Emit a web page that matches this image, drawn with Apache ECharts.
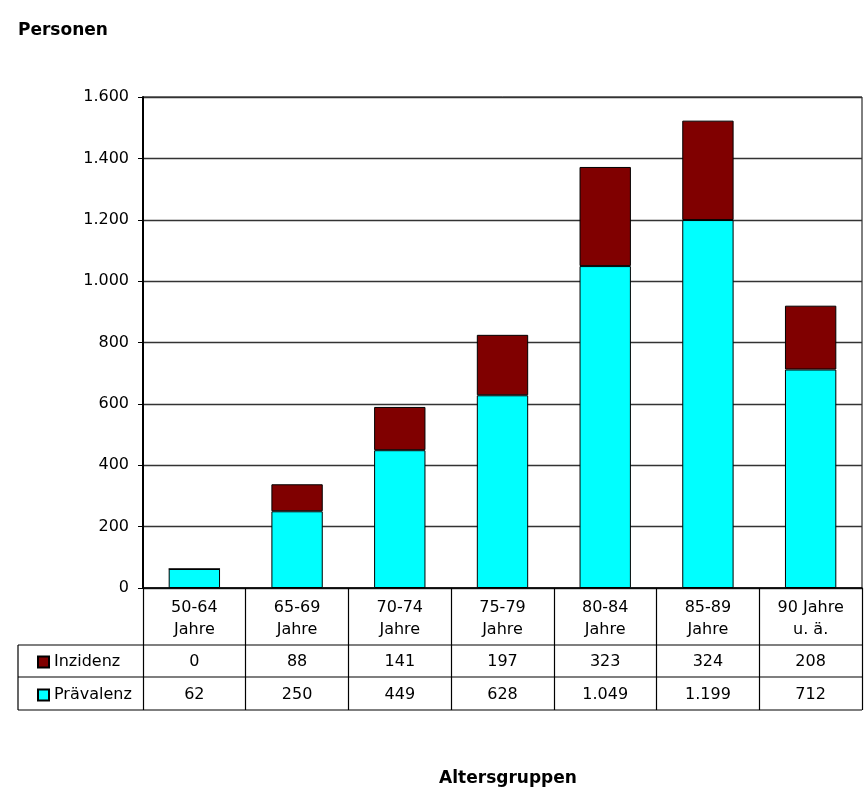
<!DOCTYPE html>
<html>
<head>
<meta charset="utf-8">
<script src="https://cdn.jsdelivr.net/npm/echarts@6/dist/echarts.min.js"></script>
<style>
    html, body { margin: 0; padding: 0; background: #fff; }
    #chart { width: 864px; height: 793px; }
</style>
</head>
<body>
<div id="chart"></div>
<script>
    // Altersgruppen und Werte (aus der Tabelle unter dem Diagramm)
    var categories = ['50-64\nJahre', '65-69\nJahre', '70-74\nJahre', '75-79\nJahre', '80-84\nJahre', '85-89\nJahre', '90 Jahre\nu. ä.'];
    var praevalenz = [62, 250, 449, 628, 1049, 1199, 712];
    var inzidenz = [0, 88, 141, 197, 323, 324, 208];
    var yTicks = { min: 0, max: 1600, interval: 200 };

    var FONT = 'DejaVu Sans';

    function fmt(v) {
        return String(v).replace(/\B(?=(\d{3})+(?!\d))/g, '.');
    }

    function valueAxis(data, offset) {
        return {
            type: 'category',
            gridIndex: 0,
            position: 'bottom',
            offset: offset,
            data: data,
            axisLine: { show: false },
            axisTick: { show: false },
            splitLine: { show: false },
            axisLabel: { margin: 0, color: '#000', fontFamily: FONT, fontSize: 16 }
        };
    }

    var chart = echarts.init(document.getElementById('chart'));
    chart.setOption({
        animation: false,
        backgroundColor: '#fff',
        title: [
            {
                text: 'Personen', left: 13, top: 17,
                textStyle: { fontFamily: FONT, fontSize: 17, fontWeight: 'bold', color: '#000' }
            },
            {
                text: 'Altersgruppen', left: 503, top: 765, textAlign: 'center',
                textStyle: { fontFamily: FONT, fontSize: 17, fontWeight: 'bold', color: '#000' }
            }
        ],
        legend: {
            data: ['Inzidenz', 'Prävalenz'],
            orient: 'vertical',
            left: 32,
            top: 648,
            itemWidth: 11,
            itemHeight: 11,
            itemGap: 15,
            itemTextGap: 4,
            icon: 'rect',
            textStyle: { fontFamily: FONT, fontSize: 16, color: '#000', lineHeight: 18 },
            selectedMode: false
        },
        grid: {
            left: 143, right: 2, top: 97, bottom: 205,
            show: true, borderColor: '#000', borderWidth: 1
        },
        xAxis: [
            {
                type: 'category',
                data: categories,
                axisLine: { show: true, lineStyle: { color: '#000', width: 1.5 } },
                axisTick: { show: true, alignWithLabel: false, length: 122, lineStyle: { color: '#000', width: 1.2 } },
                axisLabel: { color: '#000', fontFamily: FONT, fontSize: 16, lineHeight: 22, margin: 9, interval: 0 }
            },
            valueAxis(inzidenz.map(fmt), 66),
            valueAxis(praevalenz.map(fmt), 99)
        ],
        yAxis: {
            type: 'value',
            min: yTicks.min,
            max: yTicks.max,
            interval: yTicks.interval,
            axisLine: { show: true, lineStyle: { color: '#000', width: 2 } },
            axisTick: { show: true, length: 5, lineStyle: { color: '#000' } },
            axisLabel: {
                color: '#000', fontFamily: FONT, fontSize: 16, margin: 14,
                formatter: function (v) { return fmt(v); }
            },
            splitLine: { show: true, lineStyle: { color: '#333', width: 1.3 } }
        },
        series: [
            {
                name: 'Prävalenz',
                type: 'bar',
                stack: 'gesamt',
                barWidth: '50%',
                data: praevalenz,
                itemStyle: { color: '#00FFFF', borderColor: '#000', borderWidth: 1 }
            },
            {
                name: 'Inzidenz',
                type: 'bar',
                stack: 'gesamt',
                barWidth: '50%',
                data: inzidenz,
                itemStyle: { color: '#800000', borderColor: '#000', borderWidth: 1 }
            }
        ],
        graphic: [
            { type: 'line', shape: { x1: 18, y1: 645, x2: 862, y2: 645 }, style: { stroke: '#000', lineWidth: 1.2 } },
            { type: 'line', shape: { x1: 18, y1: 677, x2: 862, y2: 677 }, style: { stroke: '#000', lineWidth: 1.2 } },
            { type: 'line', shape: { x1: 18, y1: 710, x2: 862, y2: 710 }, style: { stroke: '#000', lineWidth: 1.2 } },
            { type: 'line', shape: { x1: 18, y1: 645, x2: 18, y2: 710 }, style: { stroke: '#000', lineWidth: 1.2 } }
        ]
    });
</script>
</body>
</html>
